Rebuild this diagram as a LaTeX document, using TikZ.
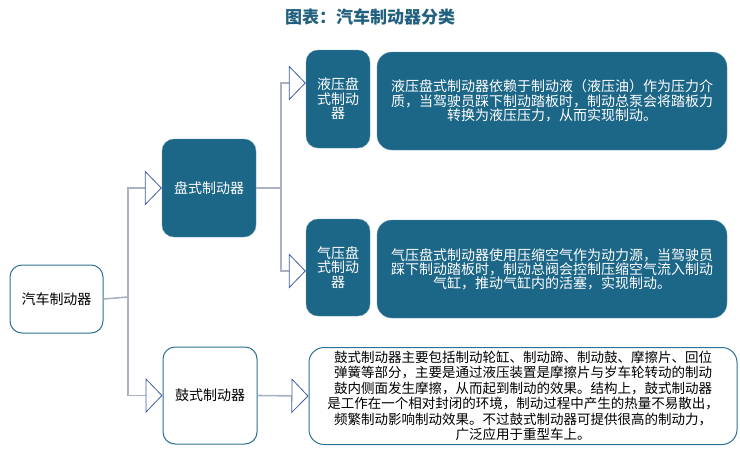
\documentclass[tikz,border=0pt]{standalone}
\usepackage{fontspec}
\usepackage{tikz}
\usetikzlibrary{arrows.meta}
\setmainfont{Noto Sans CJK SC}
\definecolor{boxblue}{HTML}{1C6688}
\definecolor{edgeblue}{HTML}{2E7196}
\definecolor{titleblue}{HTML}{22607F}
\definecolor{linkgray}{HTML}{AAB1C3}
\definecolor{tipblue}{HTML}{3F5FA6}

\begin{document}
\begin{tikzpicture}[x=1pt,y=-1pt,
    darkbox/.style={draw=boxblue!70!white, fill=boxblue, text=white, rounded corners=12pt,
      align=center, inner sep=0pt, font=\fontsize{14}{14.5}\selectfont},
    lightbox/.style={draw=edgeblue, fill=white, text=black, line width=1pt, rounded corners=12pt,
      align=center, inner sep=0pt, font=\fontsize{14}{14.5}\selectfont},
    link/.style={draw=linkgray, line width=1.6pt},
    tip/.style={-{Triangle[length=17pt,width=35pt,fill=white,color=tipblue,line width=0.8pt]}}]
  \useasboundingbox (0,0) rectangle (740,456);

  %Titulo
  \node[font=\fontsize{17}{17}\selectfont\bfseries, text=titleblue] (title) at (370,17) {图表：汽车制动器分类};

  %Caixas
  \node[lightbox, minimum width=93pt, minimum height=68pt] (root) at (56.5,299) {汽车制动器};
  \node[darkbox, minimum width=94pt, minimum height=98pt] (disc) at (209,188) {盘式制动器};
  \node[lightbox, minimum width=94pt, minimum height=97pt] (drum) at (210,395.5) {鼓式制动器};
  \node[darkbox, minimum width=64pt, minimum height=98pt] (hyd) at (338,99) {液压盘\\式制动\\器};
  \node[darkbox, minimum width=64pt, minimum height=97pt] (pneu) at (338,267.5) {气压盘\\式制动\\器};

  %Descricoes
  \node[darkbox, rounded corners=15pt, minimum width=350pt, minimum height=98pt] (hyddesc) at (552,101)
    {液压盘式制动器依赖于制动液（液压油）作为压力介\\质，当驾驶员踩下制动踏板时，制动总泵会将踏板力\\转换为液压压力，从而实现制动。};
  \node[darkbox, rounded corners=15pt, minimum width=350pt, minimum height=98pt,
    font=\fontsize{14}{14}\selectfont] (pneudesc) at (552,269)
    {气压盘式制动器使用压缩空气作为动力源，当驾驶员\\踩下制动踏板时，制动总阀会控制压缩空气流入制动\\气缸，推动气缸内的活塞，实现制动。};
  \node[lightbox, rounded corners=15pt, minimum width=428pt, minimum height=97pt,
    font=\fontsize{13.5}{15.5}\selectfont] (drumdesc) at (523,396)
    {鼓式制动器主要包括制动轮缸、制动蹄、制动鼓、摩擦片、回位\\弹簧等部分，主要是通过液压装置是摩擦片与岁车轮转动的制动\\鼓内侧面发生摩擦，从而起到制动的效果。结构上，鼓式制动器\\是工作在一个相对封闭的环境，制动过程中产生的热量不易散出，\\频繁制动影响制动效果。不过鼓式制动器可提供很高的制动力，\\广泛应用于重型车上。};

  %Ligacoes
  \coordinate (fork1) at (128,297);
  \coordinate (fork2) at (281,188);
  \draw[link] (root.east) -- (fork1);
  \draw[link,tip] (fork1) |- (disc.west);
  \draw[link,tip] (fork1) |- (drum.west);
  \draw[link] (disc.east) -- (fork2);
  \draw[link,tip] (fork2) |- ([yshift=16pt]hyd.west);
  \draw[link,tip] (fork2) |- ([yshift=-3.5pt]pneu.west);
  \draw[link,tip] (drum.east) -- (drumdesc.west);
\end{tikzpicture}
\end{document}
